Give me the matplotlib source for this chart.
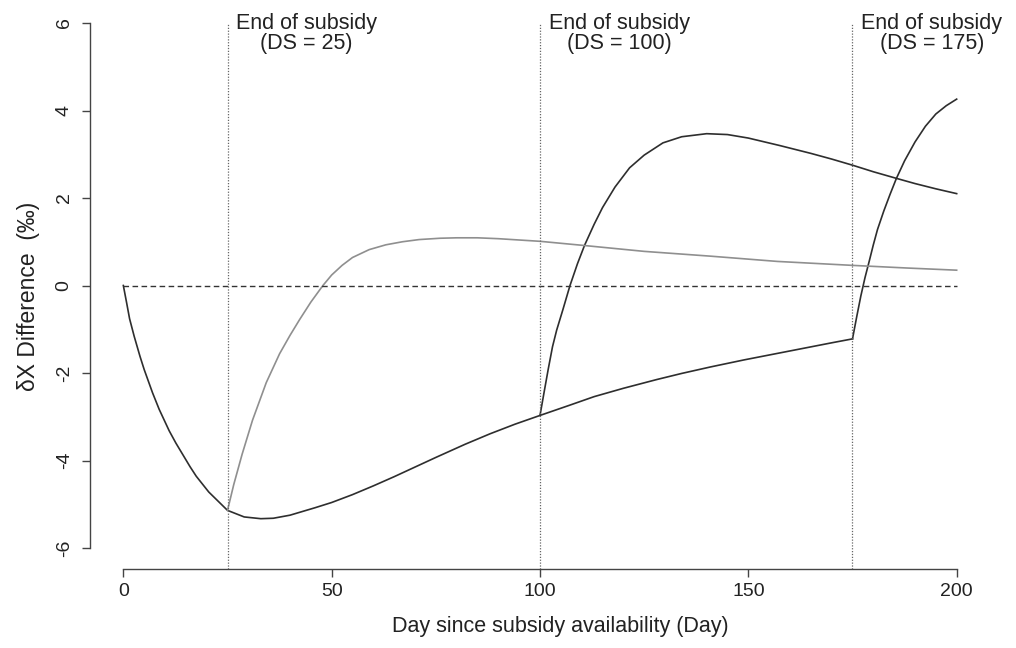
import numpy as np
import matplotlib
matplotlib.use('Agg')
import matplotlib.pyplot as plt

plt.rcParams['font.family'] = ['Liberation Sans', 'DejaVu Sans']
plt.rcParams['axes.unicode_minus'] = False

# subsidy continues all the way (dark)
main_day = [0, 0.8, 1.5, 2.6, 4, 5, 7, 8.6, 11, 12.6, 16, 17.5, 20.5, 25, 29, 33, 36, 40,
            46, 50, 55, 60, 65, 70, 75, 82, 88, 94, 100, 107, 113, 120, 128, 134, 141,
            149, 156, 163, 170, 175]
main_val = [0, -0.40, -0.76, -1.16, -1.62, -1.92, -2.45, -2.83, -3.32, -3.60, -4.14, -4.36,
            -4.72, -5.14, -5.29, -5.33, -5.32, -5.25, -5.08, -4.96, -4.78, -4.58, -4.37,
            -4.15, -3.93, -3.63, -3.39, -3.17, -2.97, -2.74, -2.54, -2.35, -2.15, -2.01,
            -1.86, -1.70, -1.57, -1.44, -1.31, -1.22]

# end of subsidy at DS = 175
ds175_day = [175, 176, 177, 178, 179, 180, 181, 182.5, 184, 185.5, 187.5, 190, 192.5,
             195, 197.5, 200]
ds175_val = [-1.22, -0.72, -0.24, 0.18, 0.55, 0.93, 1.28, 1.70, 2.08, 2.44, 2.85, 3.28,
             3.64, 3.92, 4.11, 4.26]

# end of subsidy at DS = 100
ds100_day = [100, 101, 102, 103, 104, 105.5, 107.2, 109, 110.7, 113, 115, 118, 121.5,
             125, 129.5, 134, 140, 145, 150, 157.5, 165, 170, 175, 180, 185.5, 190, 195, 200]
ds100_val = [-2.97, -2.43, -1.90, -1.40, -1.02, -0.55, 0.0, 0.50, 0.92, 1.40, 1.78, 2.25,
             2.69, 2.98, 3.26, 3.40, 3.47, 3.45, 3.37, 3.20, 3.02, 2.89, 2.75, 2.60, 2.45,
             2.33, 2.21, 2.10]

# end of subsidy at DS = 25 (grey)
ds25_day = [25, 26.5, 28.5, 31, 34.3, 37.5, 40, 42.3, 45, 47.9, 50, 52.5, 55, 59, 63, 67,
            71, 76, 80, 85, 90, 100, 110, 125, 141, 157, 175, 188, 200]
ds25_val = [-5.14, -4.55, -3.86, -3.08, -2.22, -1.56, -1.14, -0.78, -0.38, 0.0, 0.24, 0.46,
            0.64, 0.82, 0.93, 1.00, 1.05, 1.08, 1.09, 1.09, 1.07, 1.01, 0.92, 0.78, 0.67,
            0.55, 0.46, 0.40, 0.35]

subsidy_end = [25, 100, 175]
end_labels = ['End of subsidy\n(DS = 25)', 'End of subsidy\n(DS = 100)', 'End of subsidy\n(DS = 175)']
x_ticks = [0, 50, 100, 150, 200]
y_ticks = [-6, -4, -2, 0, 2, 4, 6]

fig = plt.figure(figsize=(10.16, 6.48), dpi=100)
ax = fig.add_axes([90 / 1016, 79 / 648, 900 / 1016, 567 / 648])
ax.set_xlim(-8, 208)
ax.set_ylim(-6.48, 6.48)

dark = '#2e2e2e'
ax.plot(main_day, main_val, color=dark, lw=1.2)
ax.plot(ds175_day, ds175_val, color=dark, lw=1.2)
ax.plot(ds100_day, ds100_val, color=dark, lw=1.2)
ax.plot(ds25_day, ds25_val, color='#8f8f8f', lw=1.2)

ax.plot([0, 200], [0, 0], color='#333333', lw=1.0, linestyle=(0, (4, 2.5)))
ax.vlines(subsidy_end, -6.48, 6, colors='#666666', lw=0.9, linestyles=(0, (1, 1.3)))

for d, lab in zip(subsidy_end, end_labels):
    ax.text(d + 2.1, 5.76, lab, ha='left', va='center', multialignment='center',
            fontsize=15.5, color='#222222', linespacing=0.98)

for s in ['top', 'right']:
    ax.spines[s].set_visible(False)
ax.spines['left'].set_bounds(-6, 6)
ax.spines['bottom'].set_bounds(0, 200)
for s in ['left', 'bottom']:
    ax.spines[s].set_color('#444444')
    ax.spines[s].set_linewidth(1.0)

ax.set_xticks(x_ticks)
ax.set_yticks(y_ticks)
ax.set_yticklabels([str(v) for v in y_ticks])
ax.tick_params(axis='both', length=5.5, width=1.0, color='#444444', labelsize=14,
               labelcolor='#222222')
ax.tick_params(axis='x', pad=4.5)
ax.tick_params(axis='y', pad=7, labelrotation=90)
for lab in ax.get_yticklabels():
    lab.set_va('center')

ax.set_xlabel('Day since subsidy availability (Day)', fontsize=15.5, color='#222222')
ax.xaxis.set_label_coords(0.523, -0.083)
ax.set_ylabel('δX Difference  (‰)', fontsize=16.5, color='#222222')
ax.yaxis.set_label_coords(-0.055, 0.48)

fig.savefig('out.png', dpi=100)
